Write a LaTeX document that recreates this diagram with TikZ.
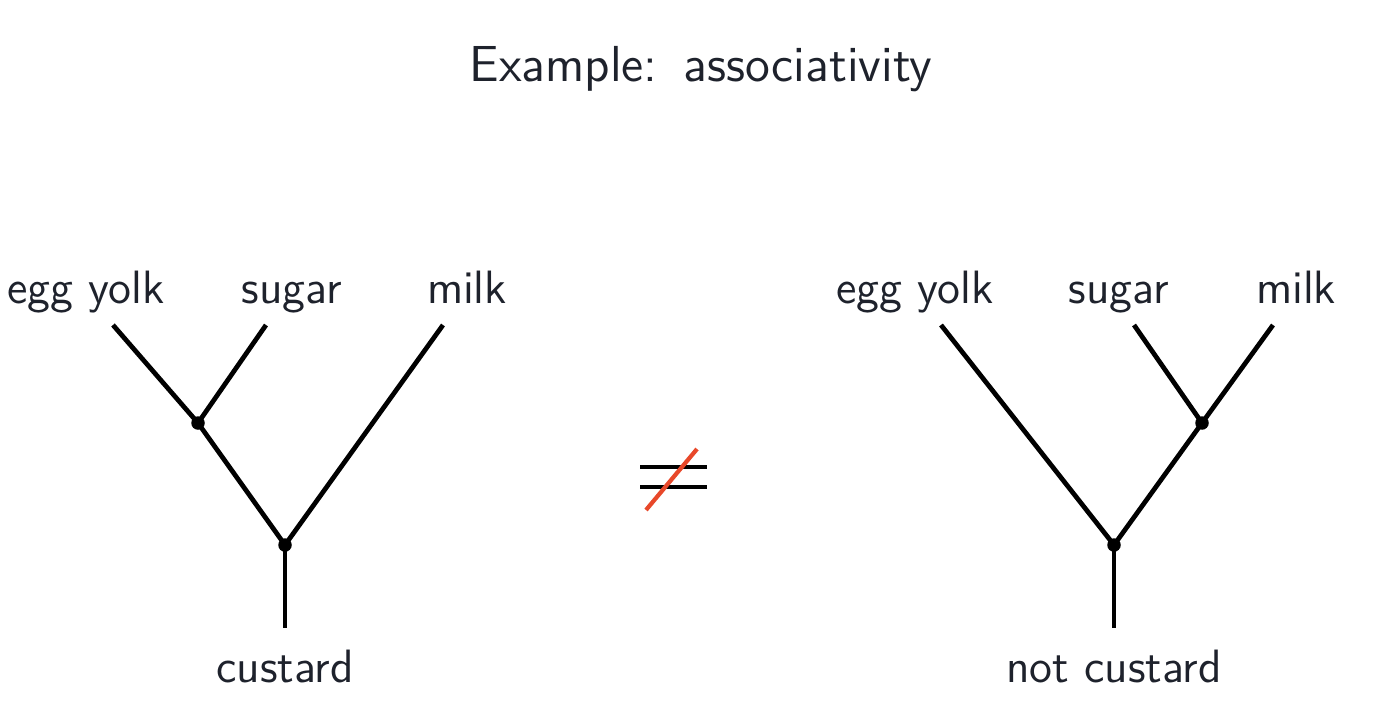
\documentclass[tikz,border=0pt]{standalone}
\usepackage{tikz}
\usetikzlibrary{positioning}
\definecolor{inkdark}{RGB}{30,34,44}
\definecolor{slashred}{RGB}{232,72,42}

\begin{document}
\begin{tikzpicture}[
    x=0.1mm, y=-0.1mm,
    ingredient/.style={anchor=base, inner sep=0pt, text=inkdark, font=\sffamily\fontsize{13.3}{15}\selectfont},
    junction/.style={circle, fill=black, inner sep=0pt, minimum size=1.35mm},
    branch/.style={line width=1.35pt, black}
  ]
    \useasboundingbox (0,0) rectangle (1382,724);

    % Title
    \node[anchor=base, inner sep=0pt, text=inkdark, font=\sffamily\fontsize{14.4}{17}\selectfont] (title) at (701,82) {Example:\hspace{0.52em}associativity};

    % Left tree: (egg yolk, sugar), milk
    \node[ingredient] (egg1) at (86,303) {egg yolk};
    \node[ingredient] (sugar1) at (292,303) {sugar};
    \node[ingredient] (milk1) at (467,303) {milk};
    \coordinate (egg1top) at (113,325);
    \coordinate (sugar1top) at (266,325);
    \coordinate (milk1top) at (443,325);
    \node[junction] (mix1) at (198,423) {};
    \node[junction] (root1) at (285,545) {};
    \coordinate (out1) at (285,628);
    \node[ingredient] (custard) at (285,682) {custard};

    % Right tree: egg yolk, (sugar, milk)
    \node[ingredient] (egg2) at (915,303) {egg yolk};
    \node[ingredient] (sugar2) at (1119,303) {sugar};
    \node[ingredient] (milk2) at (1296,303) {milk};
    \coordinate (egg2top) at (941,325);
    \coordinate (sugar2top) at (1134,325);
    \coordinate (milk2top) at (1273,325);
    \node[junction] (mix2) at (1202,423) {};
    \node[junction] (root2) at (1114,545) {};
    \coordinate (out2) at (1114,628);
    \node[ingredient] (notcustard) at (1114,682) {not custard};

    % Branches
    \draw[branch] (egg1top) -- (mix1.center) -- (root1.center);
    \draw[branch] (sugar1top) -- (mix1.center);
    \draw[branch] (milk1top) -- (root1.center);
    \draw[branch] (root1.center) -- (out1);

    \draw[branch] (egg2top) -- (root2.center);
    \draw[branch] (sugar2top) -- (mix2.center);
    \draw[branch] (milk2top) -- (mix2.center) -- (root2.center);
    \draw[branch] (root2.center) -- (out2);

    % Not equal sign
    \draw[line width=1pt, black] (640,467) -- (707,467);
    \draw[line width=1pt, black] (640,487) -- (707,487);
    \draw[line width=1.2pt, slashred] (646,510) -- (697,449);
\end{tikzpicture}
\end{document}
